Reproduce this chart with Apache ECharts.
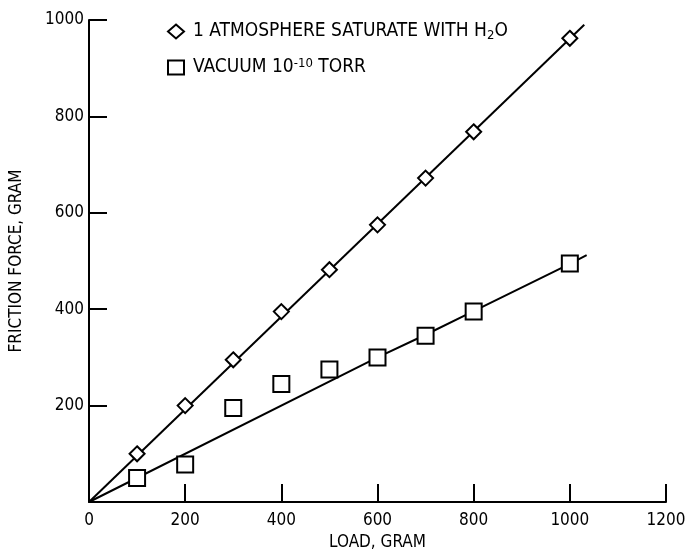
<!DOCTYPE html>
<html><head><meta charset="utf-8">
<script src="https://cdn.jsdelivr.net/npm/echarts@6/dist/echarts.min.js"></script>
<style>html,body{margin:0;padding:0;background:#fff}#c{width:690px;height:558px}</style>
</head><body><div id="c"></div>
<script>
const FONT = '"Liberation Sans Narrow","DejaVu Sans Condensed","Roboto Condensed",sans-serif';
const loads = [100, 200, 300, 400, 500, 600, 700, 800, 1000];
const atmosphere = [100, 200, 295, 395, 482, 575, 672, 768, 962];
const vacuum = [50, 78, 195, 245, 275, 300, 345, 395, 495];
const atmosphereFitX = [0, 1030];
const atmosphereFitY = [0, 990];
const vacuumFitX = [0, 600, 700, 800, 1000, 1035];
const vacuumFitY = [0, 300, 347, 396, 494, 512];
const xTicks = [0, 200, 400, 600, 800, 1000, 1200];
const yTicks = [0, 200, 400, 600, 800, 1000];

const pair = (xs, ys) => xs.map((x, i) => [x, ys[i]]);
const chart = echarts.init(document.getElementById('c'));
const axisLine = {show: true, lineStyle: {color: '#000', width: 2}};
chart.setOption({
  animation: false,
  backgroundColor: '#fff',
  grid: {left: 88, right: 24, top: 20, bottom: 56},
  legend: {
    orient: 'vertical', left: 162, top: 17, itemGap: 15,
    itemWidth: 16, itemHeight: 14,
    data: [{name: 'atm', icon: 'diamond'}, {name: 'vac', icon: 'rect'}],
    formatter: n => n === 'atm' ? '1 ATMOSPHERE SATURATE WITH H{sub|2}O' : 'VACUUM 10{sup|-10} TORR',
    textStyle: {fontFamily: FONT, fontSize: 19, color: '#000', padding: [0,0,0,4],
      rich: {sub: {fontSize: 13, verticalAlign: 'bottom', padding: [8,0,0,0], fontFamily: FONT},
             sup: {fontSize: 13, verticalAlign: 'top', padding: [0,0,8,0], fontFamily: FONT}}}
  },
  xAxis: {
    type: 'value', min: 0, max: 1200, interval: 200,
    name: 'LOAD, GRAM', nameLocation: 'middle', nameGap: 32,
    nameTextStyle: {fontFamily: FONT, fontSize: 17, color: '#000'},
    axisLine: axisLine,
    axisTick: {show: true, inside: true, length: 18, lineStyle: {color: '#000', width: 2}},
    axisLabel: {fontFamily: FONT, fontSize: 17, color: '#000', margin: 10, formatter: v => String(v)},
    splitLine: {show: false}
  },
  yAxis: {
    type: 'value', min: 0, max: 1000, interval: 200,
    name: 'FRICTION FORCE, GRAM', nameLocation: 'middle', nameGap: 64, nameRotate: 90,
    nameTextStyle: {fontFamily: FONT, fontSize: 17, color: '#000'},
    axisLine: axisLine,
    axisTick: {show: true, inside: true, length: 18, lineStyle: {color: '#000', width: 2}},
    axisLabel: {fontFamily: FONT, fontSize: 17, color: '#000', margin: 5,
      formatter: v => v === 0 ? '' : String(v)},
    splitLine: {show: false}
  },
  series: [
    {name: 'atmfit', type: 'line', data: pair(atmosphereFitX, atmosphereFitY), symbol: 'none',
     lineStyle: {color: '#000', width: 2}, z: 1, silent: true},
    {name: 'vacfit', type: 'line', data: pair(vacuumFitX, vacuumFitY), symbol: 'none',
     lineStyle: {color: '#000', width: 2}, z: 1, silent: true},
    {name: 'atm', type: 'scatter', data: pair(loads, atmosphere), symbol: 'diamond', symbolSize: [15, 15],
     itemStyle: {color: '#fff', borderColor: '#000', borderWidth: 2, opacity: 1}, z: 3},
    {name: 'vac', type: 'scatter', data: pair(loads, vacuum), symbol: 'rect', symbolSize: 16,
     itemStyle: {color: '#fff', borderColor: '#000', borderWidth: 2, opacity: 1}, z: 3}
  ]
});
</script></body></html>
